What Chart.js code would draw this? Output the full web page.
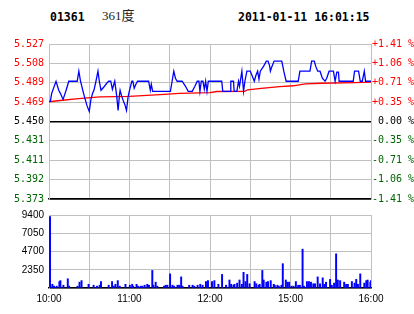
<!DOCTYPE html>
<html>
<head>
<meta charset="utf-8">
<script src="https://cdn.jsdelivr.net/npm/chart.js@4.4.0/dist/chart.umd.min.js"></script>
<style>
  html, body { margin: 0; padding: 0; background: #fff; }
  #wrap { position: relative; width: 414px; height: 314px; overflow: hidden; }
  .hd { position: absolute; top: 10px; font: bold 11.5px "DejaVu Sans Mono"; line-height: 14px; color: #000; }
  .name { position: absolute; left: 102px; top: 8px; font: 13px "Liberation Serif", "Noto Sans CJK SC"; line-height: 16px; color: #222; }
  canvas { position: absolute; left: 0; }
</style>
</head>
<body>
<div id="wrap">
  <div class="hd" style="left:50px">01361</div>
  <div class="name">361度</div>
  <div class="hd" style="left:238px">2011-01-11 16:01:15</div>
  <canvas id="price" width="414" height="210" style="top:0"></canvas>
  <canvas id="vol" width="414" height="110" style="top:204px"></canvas>
</div>
<script>
// minutes since 10:00 (lunch break removed: 12:30 -> 150, 16:00 -> 240)
const timeTickMinutes = [0, 30, 60, 90, 120, 150, 180, 210, 240];
const timeTickLabels = ["10:00", "", "11:00", "", "12:00", "", "15:00", "", "16:00"];

const priceTickLabels = ["5.373", "5.392", "5.411", "5.431", "5.450", "5.469", "5.489", "5.508", "5.527"];
const pctTickLabels = ["-1.41 %", "-1.06 %", "-0.71 %", "-0.35 %", " 0.00 %", "+0.35 %", "+0.71 %", "+1.06 %", "+1.41 %"];
const volTickLabels = ["", "2350", "4700", "7050", "9400"];

const priceMinutes = [0, 1, 2, 5.25, 7.25, 8.5, 9.75, 10.5, 11.5, 12.75, 14.75, 21, 22.25, 23.5, 25.75, 28.25, 30,
  31.25, 32.5, 33.5, 35, 36.5, 37.5, 38.75, 40.75, 43, 44.5, 46, 47.25, 49, 50.5, 51.5, 52.5, 53, 54, 55.5, 56.5, 57.75, 59,
  60, 61.75, 62.5, 63.5, 64.75, 66, 74.25, 75.5, 76.25, 77.25, 90.5, 91.75, 93, 94.25, 95.5, 99.25, 101.75, 103.75,
  106.75, 108.75, 110.5, 111.75, 112.5, 113.5, 114.75, 115.75, 116.75, 117.75, 118.75, 128.75, 129.5, 135, 135.5,
  137.5, 138, 140, 141.25, 142, 143.75, 145, 146, 147.5, 150, 151.25, 153, 154.25, 155.5, 156.5, 157.5, 160, 162,
  163.25, 164.5, 165, 166.25, 167.75, 173.5, 175, 176.75, 185.75, 187, 194.5, 195.75, 197.75, 198.75, 200.25, 202,
  203.75, 205.75, 207, 208.75, 212, 213.25, 214.5, 215.75, 216.25, 226.75, 227.75, 230.75, 232, 233.5, 235, 236, 240];
const priceValues = [5.470, 5.470, 5.478, 5.490, 5.481, 5.478, 5.474, 5.472, 5.476, 5.481, 5.490, 5.490, 5.500, 5.490, 5.478, 5.466, 5.460,
  5.472, 5.478, 5.481, 5.490, 5.500, 5.490, 5.481, 5.484, 5.488, 5.490, 5.490, 5.482, 5.490, 5.475, 5.461, 5.476, 5.481, 5.476, 5.470, 5.467, 5.461, 5.475,
  5.481, 5.490, 5.490, 5.483, 5.487, 5.490, 5.490, 5.481, 5.487, 5.480, 5.480, 5.490, 5.500, 5.493, 5.490, 5.490, 5.485, 5.480,
  5.480, 5.485, 5.490, 5.490, 5.480, 5.490, 5.490, 5.482, 5.490, 5.480, 5.490, 5.490, 5.480, 5.480, 5.490,
  5.490, 5.480, 5.480, 5.490, 5.485, 5.500, 5.480, 5.490, 5.500, 5.500, 5.496, 5.490, 5.496, 5.500, 5.492, 5.500, 5.505, 5.510,
  5.510, 5.505, 5.500, 5.505, 5.510, 5.510, 5.500, 5.490, 5.490, 5.500, 5.500, 5.510, 5.510, 5.505, 5.500, 5.500,
  5.493, 5.490, 5.493, 5.500, 5.500, 5.490, 5.499, 5.499, 5.490, 5.490, 5.500, 5.500, 5.490, 5.490, 5.500, 5.490, 5.490];

const avgMinutes = [0, 10, 22, 38, 60, 73, 86, 97, 120, 125, 146, 148, 160, 172, 182, 191, 203, 228, 240];
const avgValues = [5.4696, 5.4711, 5.4728, 5.4744, 5.4750, 5.4760, 5.4770, 5.4780, 5.4786, 5.4798, 5.4800, 5.4815,
  5.4831, 5.4847, 5.4855, 5.4873, 5.4880, 5.4886, 5.4892];

const volMinutes = [0.75, 2.5, 3.75, 5.75, 7.75, 8.5, 10.75, 14, 15, 21.25, 22.75, 24.25, 29.5, 33.25, 35.75, 37.75, 38.75,
  44.5, 47, 48.25, 49.5, 51.25, 52.75, 57, 60.25, 62, 62.75, 65.25, 66.25, 68.25, 69.5, 71.25, 73.25, 74.5, 77, 77.75,
  79.5, 80.75, 85.75, 87, 88.25, 90.25, 92, 93.25, 95.75, 97, 98.5, 99.5, 104.5, 107, 108.25, 110.75, 112.75, 114.5,
  117, 118.5, 121.5, 123.25, 126.25, 129, 132, 134.5, 135.75, 137.5, 138.25, 140.25, 142, 143.75, 145, 146.5, 147.75,
  149.5, 153.25, 154.5, 156.25, 157, 159, 160, 162, 163.25, 165.25, 167.5, 168.25, 170.25, 171.25, 173.25, 174.25,
  176.5, 177.75, 179, 180.75, 182.25, 184, 185.75, 187, 189, 190, 192.25, 193.75, 195.25, 197, 198.25, 200.25, 202,
  204, 205.25, 206.5, 209.5, 210.75, 212.5, 214, 215.25, 217, 220, 221.5, 222.75, 225.75, 227.75, 229, 230.25, 232,
  235, 236.5, 237.5, 239.5, 240];
const volValues = [9200, 480, 240, 240, 830, 950, 360, 1190, 240, 240, 750, 950, 480, 360, 240, 360, 830,
  360, 830, 240, 480, 950, 240, 480, 360, 480, 240, 480, 240, 240, 240, 360, 480, 360, 2260, 360,
  750, 240, 240, 360, 360, 1820, 360, 240, 360, 360, 1430, 240, 360, 360, 240, 360, 480, 360,
  830, 950, 830, 950, 480, 1745, 360, 1030, 480, 360, 480, 630, 1030, 480, 2020, 830, 1745,
  550, 830, 550, 360, 480, 2260, 1030, 750, 830, 950, 480, 360, 360, 240, 360, 3130,
  1030, 750, 750, 240, 240, 830, 360, 360, 5000, 240, 830, 830, 750, 550, 550, 1430, 550,
  1310, 480, 750, 1110, 360, 630, 4400, 1030, 950, 750, 480, 480, 830, 630, 1110, 480, 1820,
  630, 950, 1030, 750, 950];

const RED = "#ff0000";
const GREEN = "#006400";
const GRID = "#c0c0c0";

const priceMin = Number(priceTickLabels[0]);
const priceMax = Number(priceTickLabels[priceTickLabels.length - 1]);
const volMax = Number(volTickLabels[volTickLabels.length - 1]);

function evenTicks(labels, min, max) {
  return function (scale) {
    const n = labels.length - 1;
    scale.ticks = labels.map((_, i) => ({ value: min + (i * (max - min)) / n }));
  };
}
function sideColor(ctx) {
  if (ctx.index < 4) return GREEN;
  if (ctx.index === 4) return "#000";
  return RED;
}

const timeScale = (showLabels) => ({
  type: "linear",
  min: 0,
  max: 240,
  offset: false,
  afterBuildTicks: (scale) => { scale.ticks = timeTickMinutes.map((v) => ({ value: v })); },
  afterFit: (scale) => { scale.height = showLabels ? 26 : 0; },
  grid: { color: GRID, drawTicks: false, offset: false },
  border: { color: "#000", width: 1.5 },
  ticks: {
    display: showLabels,
    autoSkip: false,
    maxRotation: 0,
    padding: 5,
    color: "#000",
    font: { family: "Liberation Sans", size: 10 },
    callback: (v, i) => timeTickLabels[i],
  },
});

new Chart(document.getElementById("price"), {
  type: "line",
  data: {
    datasets: [
      {
        data: priceMinutes.map((m, i) => ({ x: m, y: priceValues[i] })),
        borderColor: "#0000ff",
        borderWidth: 1.3,
        pointRadius: 0,
        tension: 0,
        yAxisID: "y",
      },
      {
        data: avgMinutes.map((m, i) => ({ x: m, y: avgValues[i] })),
        borderColor: RED,
        borderWidth: 1.3,
        pointRadius: 0,
        tension: 0,
        yAxisID: "y",
      },
    ],
  },
  options: {
    responsive: false,
    animation: false,
    events: [],
    layout: { padding: { top: 44, bottom: 7, left: 0, right: 0 } },
    plugins: { legend: { display: false }, tooltip: { enabled: false } },
    scales: {
      x: timeScale(false),
      y: {
        position: "left",
        min: priceMin,
        max: priceMax,
        afterBuildTicks: evenTicks(priceTickLabels, priceMin, priceMax),
        afterFit: (scale) => { scale.width = 49; },
        grid: {
          drawTicks: false,
          color: (ctx) => (ctx.index === 0 || ctx.index === 4 ? "#000" : GRID),
          lineWidth: (ctx) => (ctx.index === 0 || ctx.index === 4 ? 1.5 : 1),
        },
        border: { color: GRID },
        ticks: {
          padding: 5,
          color: sideColor,
          font: { family: "DejaVu Sans Mono", size: 10 },
          callback: (v, i) => priceTickLabels[i],
        },
      },
      yPct: {
        position: "right",
        min: priceMin,
        max: priceMax,
        afterBuildTicks: evenTicks(pctTickLabels, priceMin, priceMax),
        afterFit: (scale) => { scale.width = 43; },
        grid: { display: false, drawTicks: false },
        border: { color: GRID },
        ticks: {
          padding: 1,
          color: sideColor,
          font: { family: "DejaVu Sans Mono", size: 10 },
          callback: (v, i) => pctTickLabels[i],
        },
      },
    },
  },
});

new Chart(document.getElementById("vol"), {
  type: "bar",
  data: {
    datasets: [
      {
        data: volMinutes.map((m, i) => ({ x: m, y: volValues[i] })),
        backgroundColor: "#0000ff",
        barThickness: 1.3,
      },
    ],
  },
  options: {
    responsive: false,
    animation: false,
    events: [],
    layout: { padding: { top: 5, bottom: 0, left: 0, right: 43 } },
    plugins: { legend: { display: false }, tooltip: { enabled: false } },
    scales: {
      x: timeScale(true),
      y: {
        position: "left",
        min: 0,
        max: volMax,
        afterBuildTicks: evenTicks(volTickLabels, 0, volMax),
        afterFit: (scale) => { scale.width = 49; },
        grid: { color: GRID, drawTicks: false },
        border: { color: GRID },
        ticks: {
          padding: 5,
          color: "#000",
          font: { family: "Liberation Sans", size: 10 },
          callback: (v, i) => volTickLabels[i],
        },
      },
    },
  },
});
</script>
</body>
</html>
